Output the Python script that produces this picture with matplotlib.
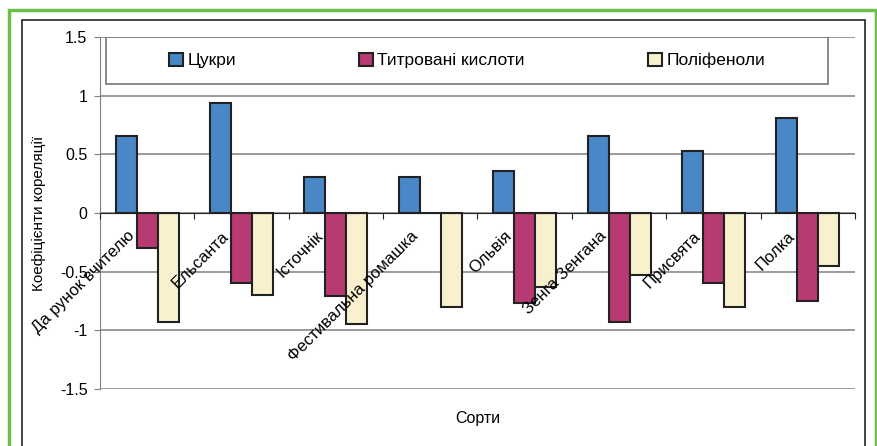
import matplotlib.pyplot as plt
from matplotlib.patches import Rectangle
import numpy as np

plt.rcParams['font.family'] = ['Liberation Sans', 'DejaVu Sans']

varieties = ["Да рунок вчителю", "Ельсанта", "Істочнік", "Фестивальна ромашка",
             "Ольвія", "Зенга Зенгана", "Присвята", "Полка"]
sugars = [0.66, 0.94, 0.31, 0.31, 0.36, 0.66, 0.53, 0.81]
acids = [-0.30, -0.60, -0.71, 0.0, -0.77, -0.93, -0.60, -0.75]
polyphenols = [-0.93, -0.70, -0.95, -0.80, -0.63, -0.53, -0.80, -0.45]
series_names = ["Цукри", "Титровані кислоти", "Поліфеноли"]
colors = ["#4a87c6", "#b73a72", "#f9f1cd"]
yticks = [-1.5, -1, -0.5, 0, 0.5, 1, 1.5]

W, H = 878, 446
fig = plt.figure(figsize=(W / 100, H / 100), dpi=100)
ax = fig.add_axes([100 / W, 57 / H, 755 / W, 352 / H])

# frames around the chart
fig.patches.append(Rectangle((9.5 / W, -0.1), 866.5 / W, 1.1 - 10 / H,
                             transform=fig.transFigure, fill=False,
                             edgecolor="#6cc04a", linewidth=2.5))
fig.patches.append(Rectangle((22.5 / W, -0.1), 842.5 / W, 1.1 - 20 / H,
                             transform=fig.transFigure, fill=False,
                             edgecolor="#222222", linewidth=1.2))

x = np.arange(len(varieties))
w = 1 / 4.5
for i, (vals, name, c) in enumerate(zip([sugars, acids, polyphenols], series_names, colors)):
    ax.bar(x + (i - 1) * w, vals, w, color=c, edgecolor="#222222",
           linewidth=1.5, label=name, zorder=2)

ax.set_xlim(-0.5, len(varieties) - 0.5)
ax.set_ylim(-1.5, 1.5)
ax.set_yticks(yticks)
ax.set_yticklabels([f"{v:g}" for v in yticks])
for v in yticks:
    ax.axhline(v, color="#808080", linewidth=1.1, zorder=0)
ax.set_axisbelow(False)
ax.tick_params(axis="y", length=4, color="#808080", labelsize=11.5, pad=5)

# category axis crossing at zero
ax.spines["bottom"].set_position(("data", 0))
ax.spines["bottom"].set_color("#222222")
ax.spines["left"].set_color("#808080")
ax.spines["top"].set_visible(False)
ax.spines["right"].set_visible(False)
ax.set_xticks(np.arange(len(varieties) + 1) - 0.5)
ax.set_xticklabels([])
ax.tick_params(axis="x", which="major", length=4, color="#222222")

# rotated category names, drawn over the bars
for xi, name in zip(x, varieties):
    ax.annotate(name, xy=(xi, 0), xycoords="data", xytext=(-7, -11),
                textcoords="offset points", rotation=45, ha="right", va="top",
                fontsize=12, zorder=6)

ax.set_ylabel("Коефіцієнти кореляції", fontsize=11, labelpad=10)
fig.text(477.5 / W, 1 - 419 / H, "Сорти", ha="center", va="center", fontsize=11.5)

# legend box across the top of the plot
ax.add_patch(Rectangle((106 / W, 1 - 84 / H), 722 / W, 47 / H, transform=fig.transFigure,
                       fill=False, edgecolor="#808080", linewidth=1.3, zorder=5))
leg = ax.legend(loc="center", bbox_to_anchor=(467 / W, 1 - 60.5 / H),
                bbox_transform=fig.transFigure, ncol=3, frameon=False, fontsize=12.5,
                handlelength=0.8, handleheight=0.8, handletextpad=0.25,
                columnspacing=7.1)

fig.savefig("out.png", dpi=100)
